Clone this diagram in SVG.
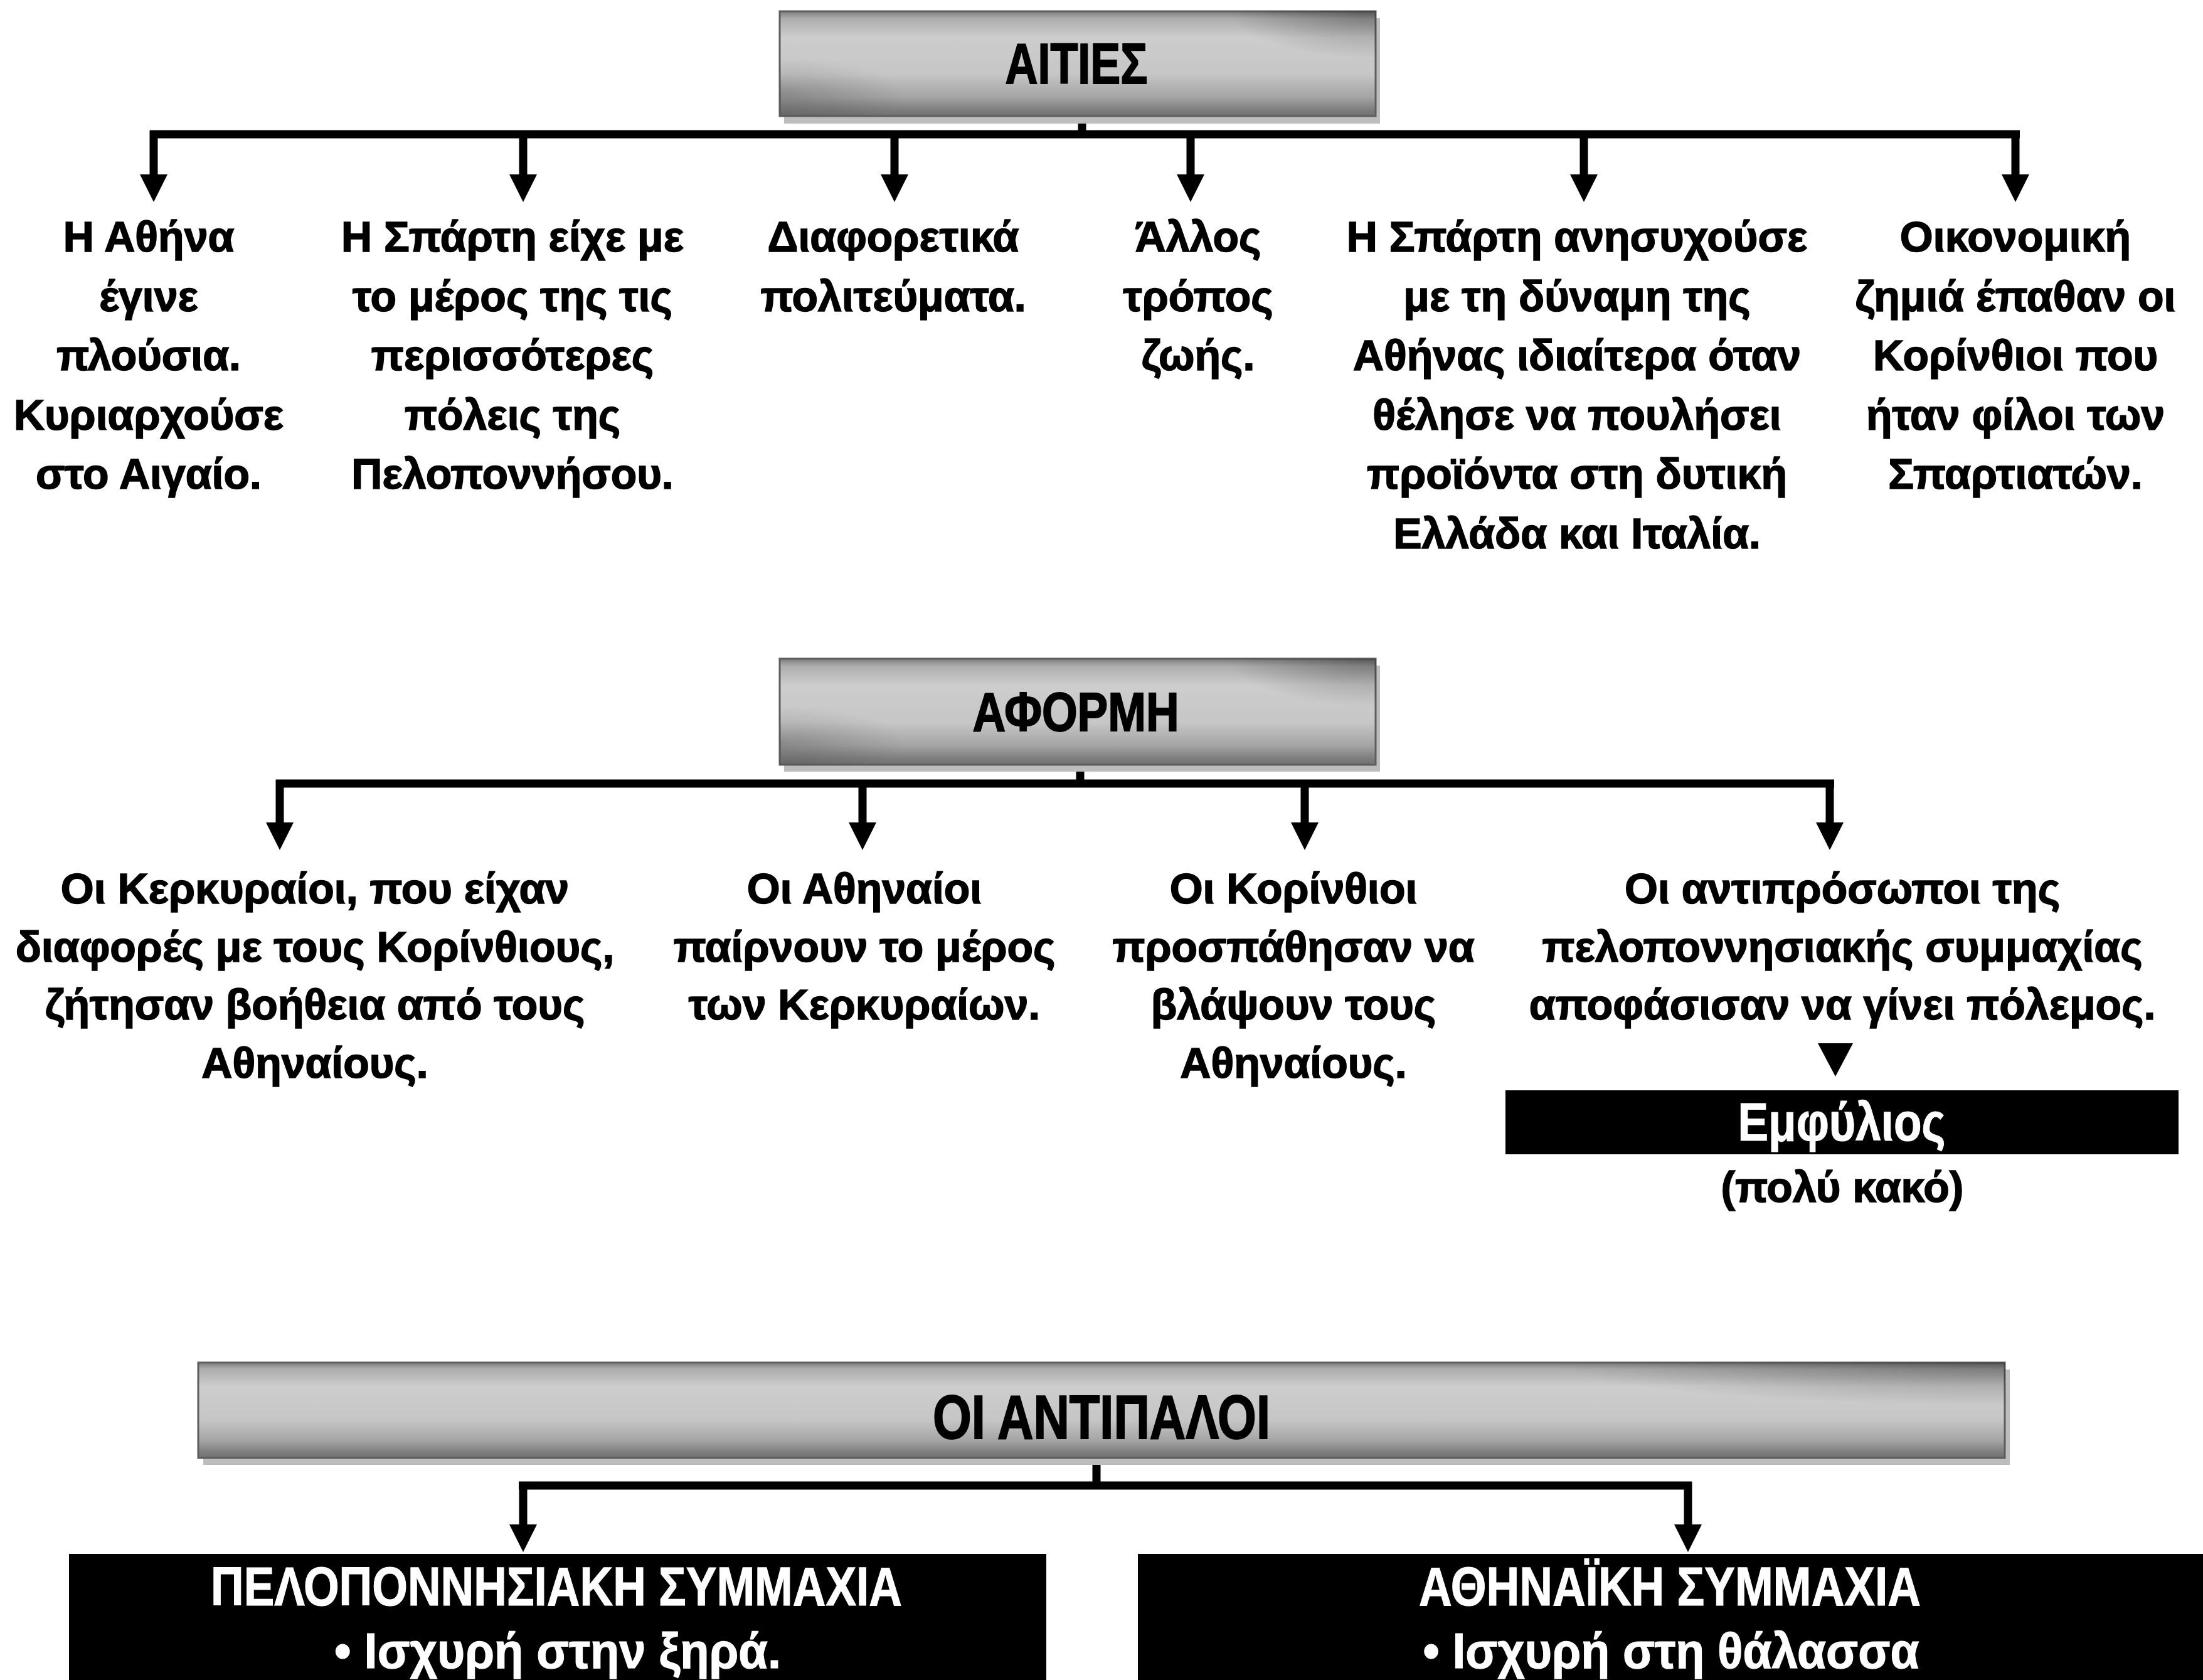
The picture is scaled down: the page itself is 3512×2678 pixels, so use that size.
<svg xmlns="http://www.w3.org/2000/svg" width="3512" height="2678" viewBox="0 0 3512 2678">
<style>
  .t { font-family: "Liberation Sans", Arial, sans-serif; font-weight: bold; font-size: 68px; fill: #000; stroke: #000; stroke-width: 1.6; text-anchor: middle; }
  .ttl { font-family: "Liberation Sans", Arial, sans-serif; font-weight: bold; fill: #000; stroke: #000; stroke-width: 2; text-anchor: middle; }
  .wt { font-family: "Liberation Sans", Arial, sans-serif; font-weight: bold; fill: #fff; stroke: #fff; stroke-width: 1.2; text-anchor: middle; }
  .conn { fill: none; stroke: #000; stroke-width: 13; }
  .arr { fill: none; stroke: #000; stroke-width: 13; marker-end: url(#ah); }
  .shadow { fill: #bdbdbd; }
  .metal { fill: url(#gv); stroke: #5e5e5e; stroke-width: 3; }
  .tint { fill: url(#gr); }
  .tint2 { fill: url(#gl); }
</style>
<defs>
  <linearGradient id="gv" x1="0" y1="0" x2="0" y2="1">
    <stop offset="0" stop-color="#7c7c7c"/>
    <stop offset="0.07" stop-color="#adadad"/>
    <stop offset="0.25" stop-color="#cdcdcd"/>
    <stop offset="0.6" stop-color="#c6c6c6"/>
    <stop offset="0.82" stop-color="#a4a4a4"/>
    <stop offset="0.94" stop-color="#7e7e7e"/>
    <stop offset="1" stop-color="#707070"/>
  </linearGradient>
  <radialGradient id="gr" cx="1" cy="0" r="0.45" gradientTransform="translate(0.45,0) scale(0.55,1)">
    <stop offset="0" stop-color="#000" stop-opacity="0.32"/>
    <stop offset="1" stop-color="#000" stop-opacity="0"/>
  </radialGradient>
  <radialGradient id="gl" cx="0" cy="0.8" r="0.35" gradientTransform="translate(0,0) scale(0.6,1)">
    <stop offset="0" stop-color="#000" stop-opacity="0.18"/>
    <stop offset="1" stop-color="#000" stop-opacity="0"/>
  </radialGradient>
  <marker id="ah" markerUnits="userSpaceOnUse" markerWidth="46" markerHeight="46" refX="0" refY="22" orient="auto" viewBox="0 0 46 44">
    <path d="M0,0 L44,22 L0,44 Z" fill="#000"/>
  </marker>
</defs>

<rect width="3512" height="2678" fill="#fff"/>

<g id="connectors">
  <line class="conn" x1="1725" y1="184" x2="1725" y2="214"/>
  <line class="conn" x1="239" y1="214" x2="3220" y2="214"/>
  <line class="arr" x1="245" y1="208" x2="245" y2="278"/>
  <line class="arr" x1="834" y1="208" x2="834" y2="278"/>
  <line class="arr" x1="1426" y1="208" x2="1426" y2="278"/>
  <line class="arr" x1="1898" y1="208" x2="1898" y2="278"/>
  <line class="arr" x1="2525" y1="208" x2="2525" y2="278"/>
  <line class="arr" x1="3213" y1="208" x2="3213" y2="278"/>
  <line class="conn" x1="1722" y1="1219" x2="1722" y2="1249"/>
  <line class="conn" x1="440" y1="1249" x2="2924" y2="1249"/>
  <line class="arr" x1="446" y1="1243" x2="446" y2="1311"/>
  <line class="arr" x1="1375" y1="1243" x2="1375" y2="1311"/>
  <line class="arr" x1="2080" y1="1243" x2="2080" y2="1311"/>
  <line class="arr" x1="2917" y1="1243" x2="2917" y2="1311"/>
  <polygon points="2898,1663 2954,1663 2926,1716" fill="#000"/>
  <line class="conn" x1="1748" y1="2323" x2="1748" y2="2368"/>
  <line class="conn" x1="827" y1="2368" x2="2697" y2="2368"/>
  <line class="arr" x1="834" y1="2362" x2="834" y2="2430"/>
  <line class="arr" x1="2691" y1="2362" x2="2691" y2="2430"/>
</g>

<g id="node-aities">
  <rect class="shadow" x="1250" y="29" width="950" height="168"/>
  <rect class="metal" x="1243" y="18" width="950" height="167"/>
  <rect class="tint" x="1243" y="18" width="950" height="167"/>
  <rect class="tint2" x="1243" y="18" width="950" height="167"/>
  <text class="ttl" x="1716" y="133" font-size="90" textLength="227" lengthAdjust="spacingAndGlyphs">ΑΙΤΙΕΣ</text>
</g>

<g id="node-a1">
  <text class="t"><tspan x="237" y="401">Η Αθήνα</tspan><tspan x="237" dy="94.5">έγινε</tspan><tspan x="237" dy="94.5">πλούσια.</tspan><tspan x="237" dy="94.5">Κυριαρχούσε</tspan><tspan x="237" dy="94.5">στο Αιγαίο.</tspan></text>
</g>
<g id="node-a2">
  <text class="t"><tspan x="817" y="401">Η Σπάρτη είχε με</tspan><tspan x="817" dy="94.5">το μέρος της τις</tspan><tspan x="817" dy="94.5">περισσότερες</tspan><tspan x="817" dy="94.5">πόλεις της</tspan><tspan x="817" dy="94.5">Πελοποννήσου.</tspan></text>
</g>
<g id="node-a3">
  <text class="t"><tspan x="1424" y="401">Διαφορετικά</tspan><tspan x="1424" dy="94.5">πολιτεύματα.</tspan></text>
</g>
<g id="node-a4">
  <text class="t"><tspan x="1910" y="401">Άλλος</tspan><tspan x="1910" dy="94.5">τρόπος</tspan><tspan x="1910" dy="94.5">ζωής.</tspan></text>
</g>
<g id="node-a5">
  <text class="t"><tspan x="2514" y="401">Η Σπάρτη ανησυχούσε</tspan><tspan x="2514" dy="94.5">με τη δύναμη της</tspan><tspan x="2514" dy="94.5">Αθήνας ιδιαίτερα όταν</tspan><tspan x="2514" dy="94.5">θέλησε να πουλήσει</tspan><tspan x="2514" dy="94.5">προϊόντα στη δυτική</tspan><tspan x="2514" dy="94.5">Ελλάδα και Ιταλία.</tspan></text>
</g>
<g id="node-a6">
  <text class="t"><tspan x="3213" y="401">Οικονομική</tspan><tspan x="3213" dy="94.5">ζημιά έπαθαν οι</tspan><tspan x="3213" dy="94.5">Κορίνθιοι που</tspan><tspan x="3213" dy="94.5">ήταν φίλοι των</tspan><tspan x="3213" dy="94.5">Σπαρτιατών.</tspan></text>
</g>

<g id="node-aformh">
  <rect class="shadow" x="1250" y="1061" width="950" height="169"/>
  <rect class="metal" x="1243" y="1050" width="950" height="169"/>
  <rect class="tint" x="1243" y="1050" width="950" height="169"/>
  <rect class="tint2" x="1243" y="1050" width="950" height="169"/>
  <text class="ttl" x="1715" y="1165" font-size="88" textLength="329" lengthAdjust="spacingAndGlyphs">ΑΦΟΡΜΗ</text>
</g>

<g id="node-b1">
  <text class="t"><tspan x="502" y="1440">Οι Κερκυραίοι, που είχαν</tspan><tspan x="502" dy="92.5">διαφορές με τους Κορίνθιους,</tspan><tspan x="502" dy="92.5">ζήτησαν βοήθεια από τους</tspan><tspan x="502" dy="92.5">Αθηναίους.</tspan></text>
</g>
<g id="node-b2">
  <text class="t"><tspan x="1378" y="1440">Οι Αθηναίοι</tspan><tspan x="1378" dy="92.5">παίρνουν το μέρος</tspan><tspan x="1378" dy="92.5">των Κερκυραίων.</tspan></text>
</g>
<g id="node-b3">
  <text class="t"><tspan x="2062" y="1440">Οι Κορίνθιοι</tspan><tspan x="2062" dy="92.5">προσπάθησαν να</tspan><tspan x="2062" dy="92.5">βλάψουν τους</tspan><tspan x="2062" dy="92.5">Αθηναίους.</tspan></text>
</g>
<g id="node-b4">
  <text class="t"><tspan x="2937" y="1440">Οι αντιπρόσωποι της</tspan><tspan x="2937" dy="92.5">πελοποννησιακής συμμαχίας</tspan><tspan x="2937" dy="92.5">αποφάσισαν να γίνει πόλεμος.</tspan></text>
</g>

<g id="node-emfylios">
  <rect x="2400" y="1738" width="1073" height="102" fill="#000"/>
  <text class="wt" x="2936" y="1818" font-size="85" textLength="331" lengthAdjust="spacingAndGlyphs">Εμφύλιος</text>
  <text class="t" x="2937" y="1916" font-size="70">(πολύ κακό)</text>
</g>

<g id="node-antipaloi">
  <rect class="shadow" x="324" y="2183" width="2880" height="152"/>
  <rect class="metal" x="316" y="2172" width="2880" height="152"/>
  <rect class="tint" x="316" y="2172" width="2880" height="152"/>
  <text class="ttl" x="1756" y="2293" font-size="98" textLength="538" lengthAdjust="spacingAndGlyphs">ΟΙ ΑΝΤΙΠΑΛΟΙ</text>
</g>

<g id="node-pelop">
  <rect x="110" y="2477" width="1558" height="201" fill="#000"/>
  <text class="wt" x="887" y="2559" font-size="88" textLength="1102" lengthAdjust="spacingAndGlyphs">ΠΕΛΟΠΟΝΝΗΣΙΑΚΗ ΣΥΜΜΑΧΙΑ</text>
  <text class="wt" x="889" y="2659" font-size="80" textLength="712" lengthAdjust="spacingAndGlyphs">• Ισχυρή στην ξηρά.</text>
</g>

<g id="node-athen">
  <rect x="1814" y="2477" width="1698" height="201" fill="#000"/>
  <text class="wt" x="2662" y="2559" font-size="88" textLength="800" lengthAdjust="spacingAndGlyphs">ΑΘΗΝΑΪΚΗ ΣΥΜΜΑΧΙΑ</text>
  <text class="wt" x="2664" y="2659" font-size="80" textLength="791" lengthAdjust="spacingAndGlyphs">• Ισχυρή στη θάλασσα</text>
</g>
</svg>
